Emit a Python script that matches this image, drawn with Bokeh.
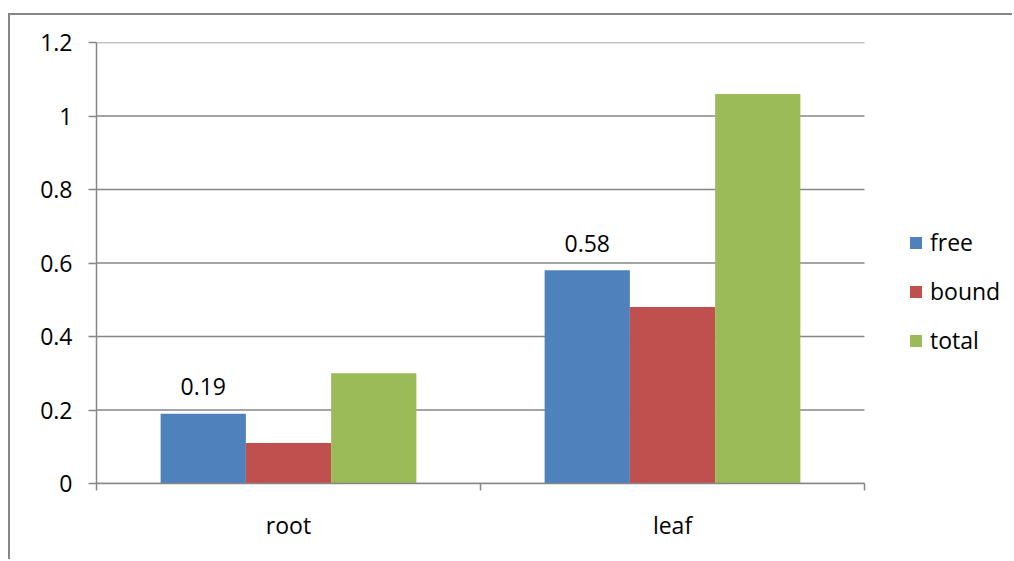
from bokeh.plotting import figure
from bokeh.models import (ColumnDataSource, Range1d, LinearAxis, FixedTicker, Legend, LegendItem)
from bokeh.transform import dodge
from bokeh.embed import file_html
from bokeh.resources import INLINE

# ---- data ----
categories = ["root", "leaf"]
free = [0.19, 0.58]
bound = [0.11, 0.48]
total = [0.30, 1.06]
free_labels = ["0.19", "0.58"]
series_names = ["free", "bound", "total"]
y_ticks = [0, 0.2, 0.4, 0.6, 0.8, 1, 1.2]
y_tick_labels = ["0", "0.2", "0.4", "0.6", "0.8", "1", "1.2"]

colors = ["#4F81BD", "#C0504D", "#9BBB59"]
FONT = "Open Sans"
FS = "23px"
GRAY = "#868686"

# category centres on a numeric axis (one unit per category)
n = len(categories)
centres = [i + 0.5 for i in range(n)]
bounds_ = [i for i in range(n + 1)]

source = ColumnDataSource(dict(xc=centres, cats=categories, free=free, bound=bound, total=total,
                               free_lbl=free_labels))

# plot area (categories) is 768px wide; the frame continues to the right to host the legend
W, H = 1004, 546
LEFT = 86
p = figure(width=W, height=H, x_range=Range1d(0, n * (W - LEFT) / 768), y_range=Range1d(0, 1.2),
           x_axis_type=None, output_backend="svg", toolbar_location=None,
           min_border_left=LEFT, min_border_right=0, min_border_top=27, min_border_bottom=78)
p.outline_line_color = None
# outer chart-area border (Excel style), partly outside the window
p.styles = {"margin-left": "8px", "margin-top": "13px",
            "border-left": "2px solid #868686", "border-top": "2px solid #868686"}

# y axis
yax = p.yaxis[0]
yax.ticker = FixedTicker(ticks=y_ticks)
yax.major_label_overrides = {t: l for t, l in zip(y_ticks, y_tick_labels)}
yax.minor_tick_line_color = None
yax.major_tick_in = 0
yax.major_tick_out = 8
yax.major_tick_line_color = GRAY
yax.major_tick_line_width = 1.5
yax.axis_line_color = GRAY
yax.axis_line_width = 1.5
yax.major_label_text_font = FONT
yax.major_label_text_font_size = FS
yax.major_label_text_color = "#000000"
yax.major_label_standoff = 16

# horizontal gridlines limited to the category area
p.ygrid.grid_line_color = None
p.segment(x0=[bounds_[0]] * len(y_ticks), x1=[bounds_[-1]] * len(y_ticks), y0=y_ticks, y1=y_ticks,
          line_color=GRAY, line_width=1.5, level="underlay")

# x tick axis (category boundaries)
tick_axis = LinearAxis(ticker=FixedTicker(ticks=bounds_), bounds=(bounds_[0], bounds_[-1]))
tick_axis.major_tick_in = 0
tick_axis.major_tick_out = 7
tick_axis.minor_tick_line_color = None
tick_axis.major_tick_line_color = GRAY
tick_axis.major_tick_line_width = 1.5
tick_axis.axis_line_color = GRAY
tick_axis.axis_line_width = 1.5
tick_axis.major_label_text_font_size = "0px"
tick_axis.major_label_text_color = None
tick_axis.major_label_standoff = 0
p.add_layout(tick_axis, "below")

# category label axis
cat_axis = LinearAxis(ticker=FixedTicker(ticks=centres))
cat_axis.major_label_overrides = {c: nm for c, nm in zip(centres, categories)}
cat_axis.axis_line_color = None
cat_axis.major_tick_line_color = None
cat_axis.minor_tick_line_color = None
cat_axis.major_tick_out = 0
cat_axis.major_tick_in = 0
cat_axis.major_label_text_font = FONT
cat_axis.major_label_text_font_size = FS
cat_axis.major_label_text_color = "#000000"
cat_axis.major_label_standoff = 18
p.add_layout(cat_axis, "below")

# bars
w = 0.222
offsets = [-w, 0.0, w]
items = []
for name, off, col in zip(series_names, offsets, colors):
    r = p.vbar(x=dodge("xc", off), top=name, width=w, source=source,
               fill_color=col, line_color=None)
    items.append(LegendItem(label=name, renderers=[r]))

# data labels for "free"
p.text(x=dodge("xc", offsets[0]), y="free", text="free_lbl", source=source,
       text_align="center", text_baseline="alphabetic", y_offset=-27,
       text_font={"value": FONT}, text_font_size={"value": FS}, text_color="#000000")

lg = Legend(items=items, location=(812, 127), orientation="vertical")
lg.border_line_color = None
lg.background_fill_alpha = 0
lg.padding = 0
lg.margin = 0
lg.glyph_width = 15
lg.glyph_height = 15
lg.label_standoff = 7
lg.spacing = 17
lg.label_text_font = FONT
lg.label_text_font_size = FS
lg.label_text_color = "#000000"
p.add_layout(lg, "center")

open("out.html", "w").write(file_html(p, INLINE))
